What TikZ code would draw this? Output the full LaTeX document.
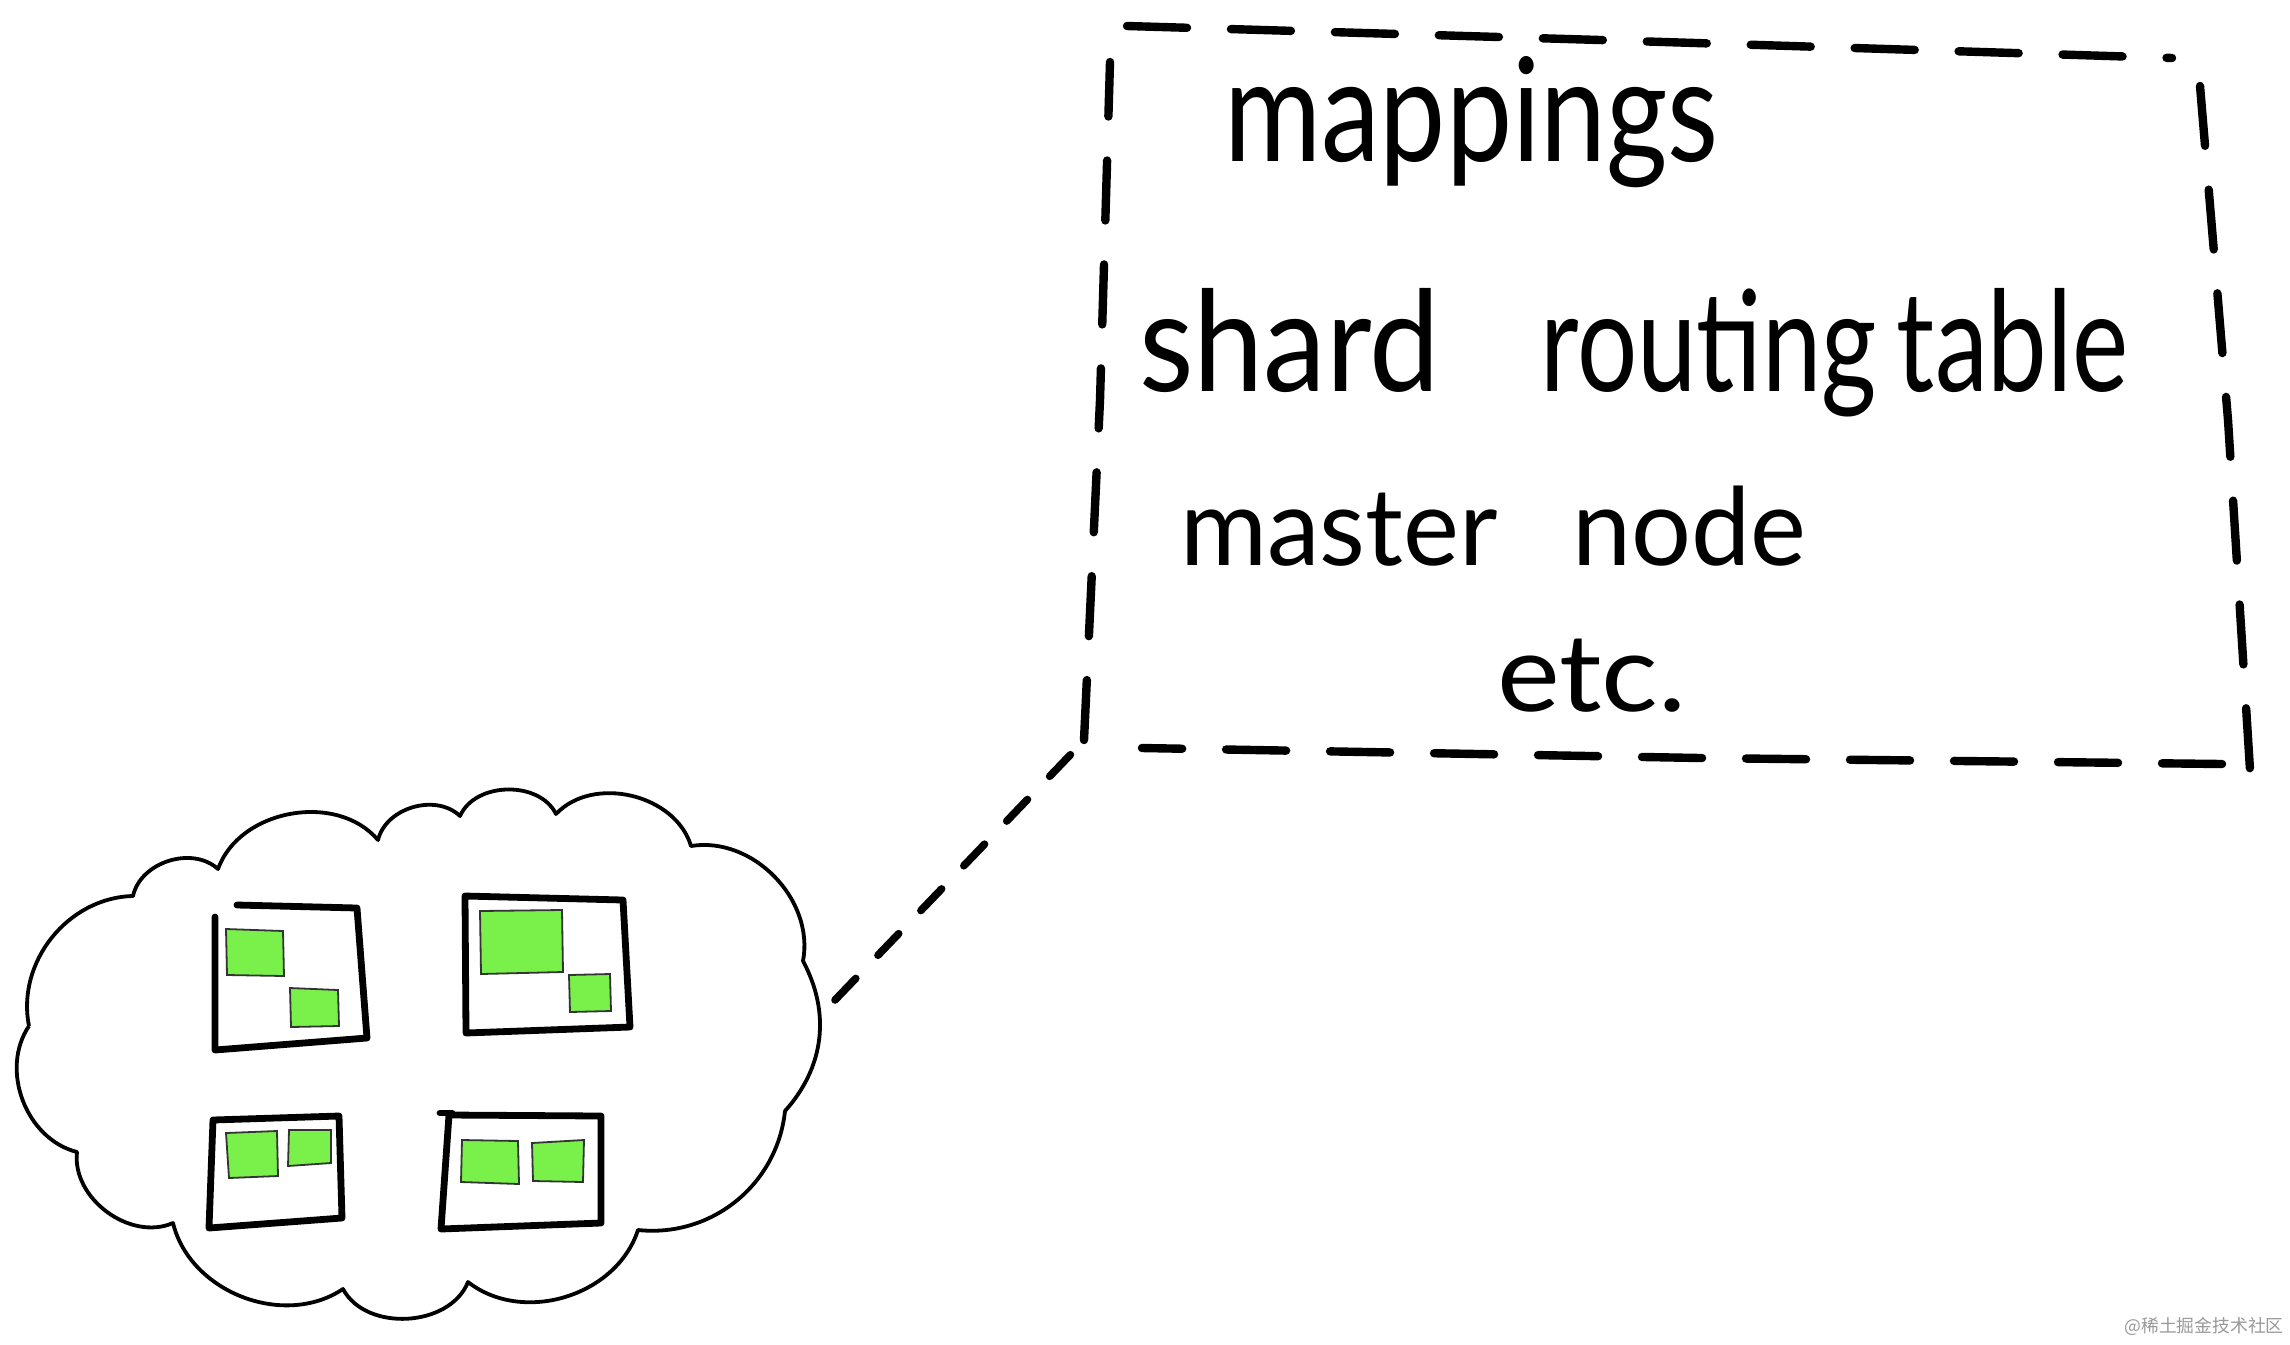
\documentclass[tikz,border=0pt]{standalone}
\usepackage{fontspec}
\setmainfont{Lato}
\newfontfamily\cjkfont{Noto Sans CJK SC}
\definecolor{srvgreen}{RGB}{122,240,74}
\tikzset{
  cloudline/.style={draw=black, line width=1.9pt, line join=round},
  srvbox/.style={draw=black, line width=3.4pt, line join=round, line cap=round},
  shardbox/.style={fill=srvgreen, draw=black!80, line width=0.9pt},
  dashbox/.style={draw=black, line width=4.2pt, line cap=round, dash pattern=on 30pt off 22pt},
  conn/.style={draw=black, line width=3.8pt, line cap=round, dash pattern=on 15pt off 16pt},
  hand/.style={inner sep=0pt, outer sep=0pt, text=black}
}
\begin{document}
\begin{tikzpicture}[x=0.5pt,y=-0.5pt]
\useasboundingbox (0,0) rectangle (2290,1344);
\fill[white] (0,0) rectangle (2290,1344);

% cloud
\path[cloudline] (29,1026) to[bend left=50] (133,896) to[bend left=60] (218,869)
  to[bend left=60] (378,840) to[bend left=60] (460,816) to[bend left=65] (556,814)
  to[bend left=60] (691,846) to[bend left=55] (803,961) to[bend left=35] (785,1111)
  to[bend left=45] (638,1230) to[bend left=55] (468,1282) to[bend left=65] (343,1289)
  to[bend left=55] (173,1223) to[bend left=60] (77,1152) to[bend left=55] (29,1026);

% servers
\path[srvbox] (215,917) -- (215,1050) -- (367,1038) -- (357,908) -- (237,905);
\path[shardbox] (226,929) -- (283,931) -- (284,976) -- (227,975) -- cycle;
\path[shardbox] (290,988) -- (338,990) -- (339,1026) -- (291,1027) -- cycle;

\path[srvbox] (465,896) -- (623,900) -- (630,1027) -- (466,1033) -- cycle;
\path[shardbox] (480,911) -- (562,910) -- (563,972) -- (481,974) -- cycle;
\path[shardbox] (569,975) -- (610,974) -- (611,1011) -- (570,1012) -- cycle;

\path[srvbox] (213,1120) -- (339,1116) -- (342,1218) -- (209,1228) -- cycle;
\path[shardbox] (226,1133) -- (277,1131) -- (278,1176) -- (229,1178) -- cycle;
\path[shardbox] (289,1130) -- (331,1130) -- (331,1163) -- (288,1166) -- cycle;

\path[srvbox] (449,1115) -- (601,1116) -- (601,1223) -- (441,1229) -- (449,1115);
\path[srvbox] (440,1113) -- (452,1113);
\path[shardbox] (462,1140) -- (518,1141) -- (519,1184) -- (461,1182) -- cycle;
\path[shardbox] (532,1143) -- (584,1140) -- (583,1182) -- (533,1181) -- cycle;

% dashed box
\coordinate (tl) at (1110,62);
\coordinate (tlt) at (1127,26);
\coordinate (tr) at (2172,58);
\coordinate (trr) at (2200,86);
\coordinate (br) at (2250,770);
\coordinate (brb) at (2222,764);
\coordinate (bl) at (1142,748);
\coordinate (bll) at (1084,740);
\path[dashbox] (tlt) -- (1600,40) -- (tr);
\path[dashbox] (trr) -- (2228,420) -- (br);
\path[dashbox] (brb) -- (1700,758) -- (bl);
\path[dashbox] (bll) -- (1100,400) -- (tl);

% texts
\node[hand, anchor=base west, xscale=0.82, font=\fontsize{72}{80}\selectfont] (map) at (1224,161) {mappings};
\node[hand, anchor=base west, font=\fontsize{70}{80}\selectfont] (srt) at (1139,391) {\scalebox{0.9}[1]{shard}\hspace{50pt}\scalebox{0.76}[1]{routing}\hspace{10pt}\scalebox{0.76}[1]{table}};
\node[hand, anchor=base west, xscale=0.98, font=\fontsize{54}{60}\selectfont] (mn) at (1180,565) {master\hspace{38pt}node};
\node[hand, anchor=base west, xscale=1.1, font=\fontsize{54}{60}\selectfont] (etc) at (1497,711) {etc.};

% connector
\coordinate (cloudR) at (835,1000);
\coordinate (boxBL) at (1073,752);
\path[conn] (cloudR) -- (boxBL);

% watermark
\node[inner sep=0pt, anchor=east, text=black!40, font=\cjkfont\fontsize{8.9}{11}\selectfont] (wm) at (2284,1326) {@稀土掘金技术社区};
\end{tikzpicture}
\end{document}
